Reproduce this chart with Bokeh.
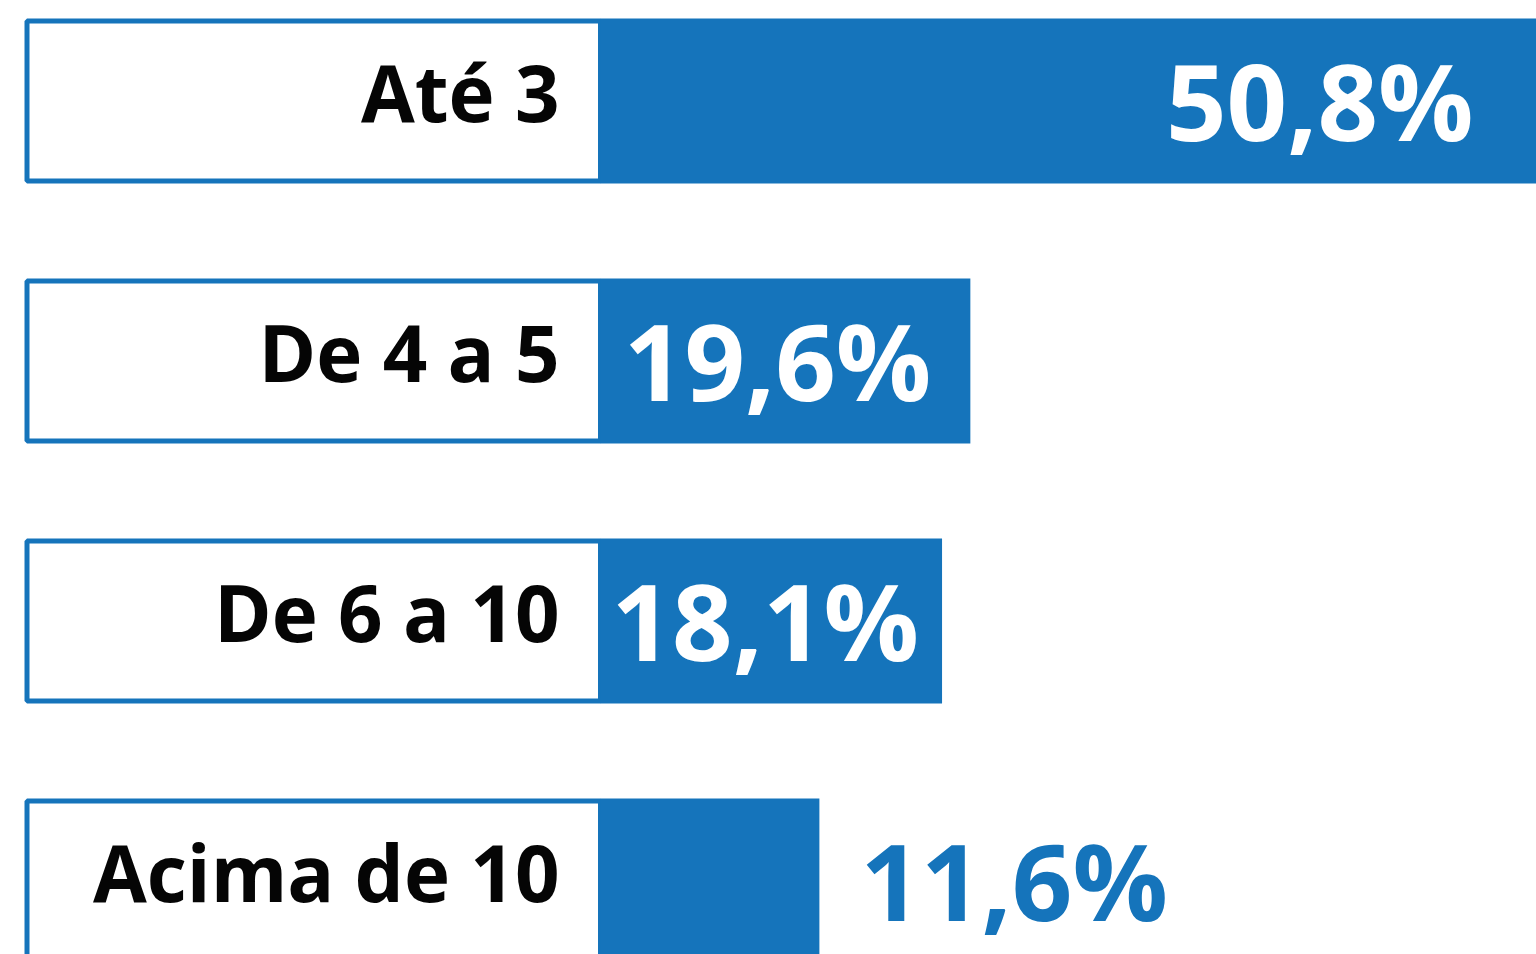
from bokeh.plotting import figure
from bokeh.models import ColumnDataSource, Range1d
from bokeh.core.properties import value
from bokeh.embed import file_html
from bokeh.resources import INLINE

# ---- data ----
categories = ["Até 3", "De 4 a 5", "De 6 a 10", "Acima de 10"]
values = [50.8, 19.6, 18.1, 11.6]
value_labels = ["50,8%", "19,6%", "18,1%", "11,6%"]

# ---- styles / layout ----
BLUE = "#1574BB"
W, H = 1536, 954
PX_PER_UNIT = 18.87          # pixels per percentage point
BAR_X0_PX = 600              # figure px where 0% lies
ROW_PITCH = 260.0            # pixels between rows
FIRST_ROW_PX = 100.5         # figure px of first row centre

x_start = -BAR_X0_PX / PX_PER_UNIT
x_end = x_start + W / PX_PER_UNIT
y_top = FIRST_ROW_PX / ROW_PITCH
y_bottom = y_top - H / ROW_PITCH

ys = [-i for i in range(len(categories))]
bar_h = 165 / ROW_PITCH
box_half = 80 / ROW_PITCH
box_left = x_start + 26.5 / PX_PER_UNIT

val_align = ["right", "right", "right", "left"]
val_offset = [-85.6, -39, -23, 41]
val_color = ["white", "white", "white", BLUE]

src = ColumnDataSource(dict(
    y=ys, cat=categories, val=values, lab=value_labels,
    top=[y + box_half for y in ys], bottom=[y - box_half for y in ys],
    align=val_align, xoff=val_offset, col=val_color,
))

p = figure(width=W, height=H, output_backend="svg", toolbar_location=None,
           x_range=Range1d(x_start, x_end), y_range=Range1d(y_bottom, y_top),
           min_border=0, background_fill_color="white", border_fill_color="white")
p.axis.visible = False
p.grid.visible = False
p.outline_line_color = None

# label boxes
p.quad(left=box_left, right=0, top="top", bottom="bottom", source=src,
       fill_color="white", line_color=BLUE, line_width=5)
# bars
p.hbar(y="y", left=0, right="val", height=bar_h, source=src,
       fill_color=BLUE, line_color=None)

# category labels
p.text(x=0, y="y", text="cat", source=src, x_offset=-41, y_offset=-9,
       text_align="right", text_baseline="alphabetic",
       text_font=value("Open Sans"), text_font_style="bold",
       text_font_size="78px", text_color="#050505")

# value labels
p.text(x="val", y="y", text="lab", source=src, x_offset="xoff", y_offset=-1,
       text_align="align", text_baseline="alphabetic",
       text_font=value("Open Sans"), text_font_style="bold",
       text_font_size="106px", text_color="col")

open("out.html", "w").write(file_html(p, INLINE))
